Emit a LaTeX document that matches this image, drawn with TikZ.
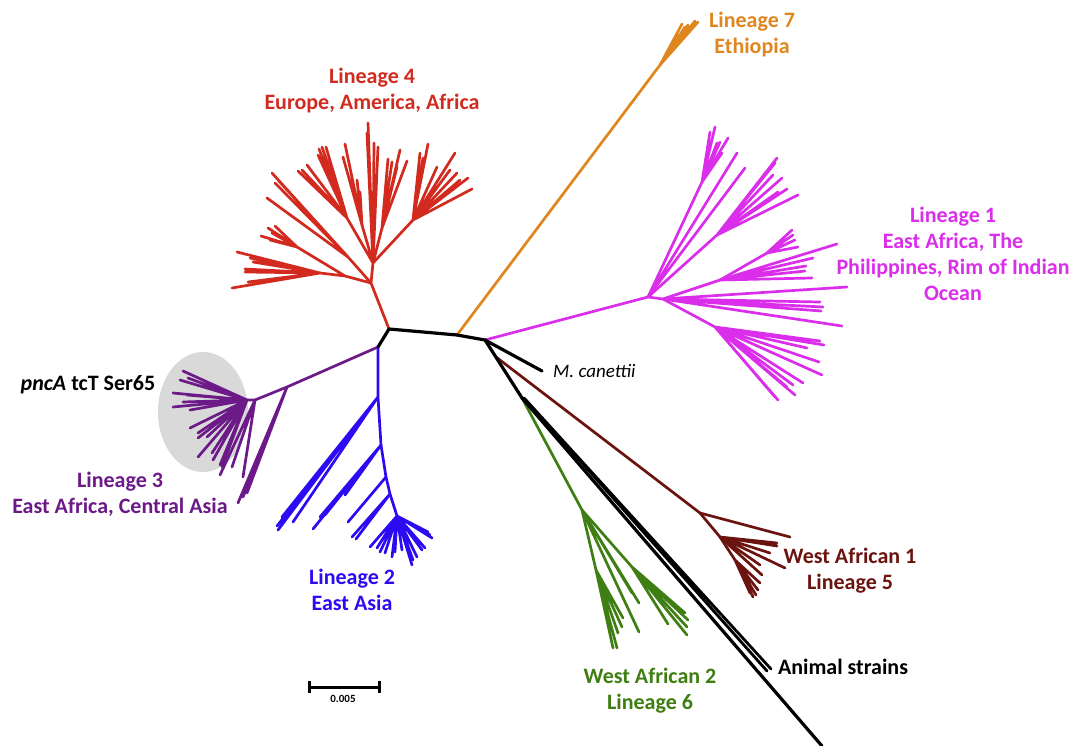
\documentclass[tikz,border=0pt]{standalone}
\usepackage{fontspec}
\setmainfont{Carlito}
\definecolor{lin1}{RGB}{218,46,235}
\definecolor{lin2}{RGB}{44,11,242}
\definecolor{lin3}{RGB}{107,26,135}
\definecolor{lin4}{RGB}{210,42,30}
\definecolor{lin5}{RGB}{107,20,15}
\definecolor{lin6}{RGB}{63,126,18}
\definecolor{lin7}{RGB}{224,134,30}
\tikzset{
	br/.style={line width=2.7pt, line cap=round, line join=round},
	bb/.style={line width=3.2pt, line cap=round, line join=round},
	lbl/.style={font=\fontsize{22}{26}\selectfont\bfseries, align=center, inner sep=0pt}
}

\begin{document}
\begin{tikzpicture}[x=1pt, y=-1pt]
			%%%%% START %%%%%
			\useasboundingbox (0,0) rectangle (1073,746);
			
			\fill[black!15] (203,412) ellipse [x radius=45pt, y radius=60pt];
			
			% backbone
			\coordinate (rA) at (389,329);
			\coordinate (rB) at (378,347);
			\coordinate (rO) at (457,335);
			\coordinate (rC) at (485,340);
			\coordinate (rD) at (496,357);
			\coordinate (rE) at (522,398);
			\coordinate (rF) at (525,399);
			\coordinate (can) at (542,371);
			
			% lineage 4
			\coordinate (r1) at (371,283);
			\coordinate (r2) at (373,263);
			\coordinate (rl) at (345,276);
			\coordinate (rl2) at (320,273);
			\coordinate (rl3) at (297,247);
			\coordinate (rm) at (348,257);
			\coordinate (ru) at (347,218);
			\coordinate (rc) at (362,225);
			\coordinate (rcr) at (382,228);
			\coordinate (rr) at (413,220);
			\draw[br, lin4] (rA) -- (r1) -- (r2) (r1) -- (rl) -- (rl2) (rl) -- (rl3) (r1) -- (rm)
				(r2) -- (ru) (r2) -- (rc) (r2) -- (rcr) (r2) -- (rr);
			\draw[br, lin4] (rl2) -- (232,288) (rl2) -- (245,269) (rl2) -- (245,272) (rl2) -- (248,282)
				(rl2) -- (237,252) (rl2) -- (250,258) (rl2) -- (253,262);
			\draw[br, lin4] (rl3) -- (261,236) (rl3) -- (268,228) (rl3) -- (275,226) (rl3) -- (270,240) (rl3) -- (272,233);
			\draw[br, lin4] (rm) -- (267,198) (rm) -- (272,173) (rm) -- (275,183) (rm) -- (278,180);
			\draw[br, lin4] (ru) -- (319,149) (ru) -- (322,147) (ru) -- (326,147) (ru) -- (318,155)
				(ru) -- (307,165) (ru) -- (302,170) (ru) -- (298,171);
			\draw[br, lin4] (rc) -- (345,144) (rc) -- (343,157) (rc) -- (357,180) (rc) -- (360,192);
			\draw[br, lin4] (r2) -- (368,123) (r2) -- (367,133) (r2) -- (374,143) (r2) -- (378,147);
			\draw[br, lin4] (rcr) -- (388,159) (rcr) -- (392,162) (rcr) -- (400,150) (rcr) -- (407,161) (rcr) -- (397,167);
			\draw[br, lin4] (rr) -- (428,144) (rr) -- (420,153) (rr) -- (423,158) (rr) -- (437,167) (rr) -- (455,153)
				(rr) -- (450,170) (rr) -- (457,173) (rr) -- (460,180) (rr) -- (468,178) (rr) -- (472,189);
			
			% lineage 7
			\coordinate (o1) at (660,65);
			\draw[br, lin7] (rO) -- (o1);
			\draw[br, lin7] (o1) -- (682,24) (o1) -- (685,27) (o1) -- (688,25) (o1) -- (695,21) (o1) -- (698,22);
			
			% lineage 1
			\coordinate (m1) at (648,297);
			\coordinate (m2) at (663,299);
			\coordinate (mu) at (702,182);
			\coordinate (mv) at (717,235);
			\coordinate (mw) at (720,280);
			\coordinate (mx) at (767,253);
			\coordinate (my) at (715,327);
			\draw[br, lin1] (rC) -- (m1) -- (m2) (m1) -- (mu) (m1) -- (mv) (m2) -- (mw) -- (mx) (m2) -- (my);
			\draw[br, lin1] (mu) -- (710,132) (mu) -- (715,127) (mu) -- (717,143) (mu) -- (720,142) (mu) -- (728,138) (mu) -- (722,153);
			\draw[br, lin1] (m1) -- (737,153) (m1) -- (745,168);
			\draw[br, lin1] (mv) -- (777,158) (mv) -- (775,163) (mv) -- (773,175) (mv) -- (782,178)
				(mv) -- (787,189) (mv) -- (778,192) (mv) -- (798,195);
			\draw[br, lin1] (mx) -- (792,230) (mx) -- (793,235) (mx) -- (795,240) (mx) -- (798,247);
			\draw[br, lin1] (mw) -- (837,244) (mw) -- (813,258) (mw) -- (806,266) (mw) -- (805,271) (mw) -- (812,278);
			\draw[br, lin1] (m2) -- (847,287) (m2) -- (820,302) (m2) -- (823,307) (m2) -- (821,311) (m2) -- (842,326);
			\draw[br, lin1] (my) -- (820,341) (my) -- (824,345) (my) -- (807,348) (my) -- (819,362) (my) -- (822,375)
				(my) -- (803,383) (my) -- (793,385) (my) -- (795,395) (my) -- (778,400) (my) -- (775,397) (my) -- (787,387);
			
			% lineage 3
			\coordinate (p1) at (287,387);
			\coordinate (p2) at (255,400);
			\coordinate (p3) at (247,400);
			\draw[br, lin3] (rB) -- (p1) -- (p2) -- (p3);
			\draw[br, lin3] (p3) -- (183,371) (p3) -- (180,380) (p3) -- (188,378) (p3) -- (173,393) (p3) -- (187,395)
				(p3) -- (173,407) (p3) -- (183,402) (p3) -- (190,410) (p3) -- (190,428) (p3) -- (198,433)
				(p3) -- (198,438) (p3) -- (207,437) (p3) -- (198,457) (p3) -- (212,453) (p3) -- (213,460)
				(p3) -- (220,465) (p3) -- (222,467);
			\draw[br, lin3] (p2) -- (220,475) (p2) -- (232,467) (p2) -- (243,477);
			\draw[br, lin3] (p1) -- (238,503) (p1) -- (243,497) (p1) -- (247,493) (p1) -- (248,488);
			
			% lineage 2
			\coordinate (u1) at (378,397);
			\coordinate (u2) at (381,445);
			\coordinate (u3) at (386,477);
			\coordinate (u4) at (390,494);
			\coordinate (u5) at (397,516);
			\draw[br, lin2] (rB) -- (u1) -- (u2) -- (u3) -- (u4) -- (u5);
			\draw[br, lin2] (u1) -- (277,526) (u1) -- (278,530) (u1) -- (282,517) (u1) -- (280,523) (u1) -- (293,522);
			\draw[br, lin2] (u2) -- (313,529) (u2) -- (320,517) (u2) -- (325,515) (u2) -- (345,495);
			\draw[br, lin2] (u3) -- (348,522);
			\draw[br, lin2] (u4) -- (352,537) (u4) -- (356,539);
			\draw[br, lin2] (u5) -- (370,547) (u5) -- (377,548) (u5) -- (380,552) (u5) -- (385,553) (u5) -- (392,557)
				(u5) -- (395,552) (u5) -- (402,550) (u5) -- (412,565) (u5) -- (413,560) (u5) -- (417,557)
				(u5) -- (422,550) (u5) -- (425,548) (u5) -- (430,535) (u5) -- (432,538) (u5) -- (428,532);
			
			% lineage 5
			\coordinate (b1) at (700,513);
			\coordinate (b2) at (720,537);
			\coordinate (b3) at (735,560);
			\draw[br, lin5] (rD) -- (b1) -- (b2) -- (b3);
			\draw[br, lin5] (b1) -- (790,537);
			\draw[br, lin5] (b2) -- (777,543) (b2) -- (777,546) (b2) -- (770,553) (b2) -- (785,568) (b2) -- (760,565) (b2) -- (762,575);
			\draw[br, lin5] (b3) -- (760,583) (b3) -- (753,597) (b3) -- (758,590) (b3) -- (750,593) (b3) -- (756,595);
			
			% lineage 6
			\coordinate (g1) at (582,510);
			\coordinate (g2) at (596,570);
			\coordinate (g3) at (632,567);
			\draw[br, lin6] (rE) -- (g1) -- (g2) (g1) -- (g3);
			\draw[br, lin6] (g1) -- (639,632) (g1) -- (639,603) (g1) -- (632,593);
			\draw[br, lin6] (g2) -- (613,648) (g2) -- (617,648) (g2) -- (618,633) (g2) -- (622,627) (g2) -- (623,618);
			\draw[br, lin6] (g3) -- (668,624) (g3) -- (687,635) (g3) -- (687,627) (g3) -- (685,613) (g3) -- (688,620);
			
			% black lines
			\draw[bb] (rB) -- (rA) -- (rO) -- (rC) -- (rE) -- (rF);
			\draw[bb] (rC) -- (can);
			\draw[bb] (rE) -- (822,746);
			\draw[line width=2.8pt, line cap=round] (rF) -- (771,669) (rF) -- (767,671);
			
			% labels
			\node[lbl, lin4] (l4) at (372,91) {Lineage 4\\Europe, America, Africa};
			\node[lbl, lin7] (l7) at (752,35) {Lineage 7\\Ethiopia};
			\node[lbl, lin1] (l1) at (953,254) {Lineage 1\\East Africa, The\\Philippines, Rim of Indian\\Ocean};
			\node[lbl, lin3] (l3) at (120,494) {Lineage 3\\East Africa, Central Asia};
			\node[lbl, lin2] (l2) at (352,590) {Lineage 2\\East Asia};
			\node[lbl, lin5] (l5) at (850,571) {West African 1\\Lineage 5};
			\node[lbl, lin6] (l6) at (650,691) {West African 2\\Lineage 6};
			\node[lbl] (ani) at (843,667) {Animal strains};
			\node[lbl] (pnc) at (88,385) {\textit{pncA} tcT Ser65};
			\node[anchor=west, inner sep=0pt, font=\fontsize{19}{22}\selectfont\itshape] (mcan) at (553,371) {M. canettii};
			
			% scale bar
			\coordinate (sb1) at (309,687);
			\coordinate (sb2) at (379,687);
			\draw[line width=3pt] (sb1) -- (sb2);
			\draw[line width=3pt] ([yshift=6pt]sb1) -- ([yshift=-6pt]sb1) ([yshift=6pt]sb2) -- ([yshift=-6pt]sb2);
			\node[inner sep=0pt, font=\fontsize{11}{13}\selectfont\bfseries] (sbl) at (343,699) {0.005};
			
			%%%%% END %%%%%
\end{tikzpicture}
\end{document}
